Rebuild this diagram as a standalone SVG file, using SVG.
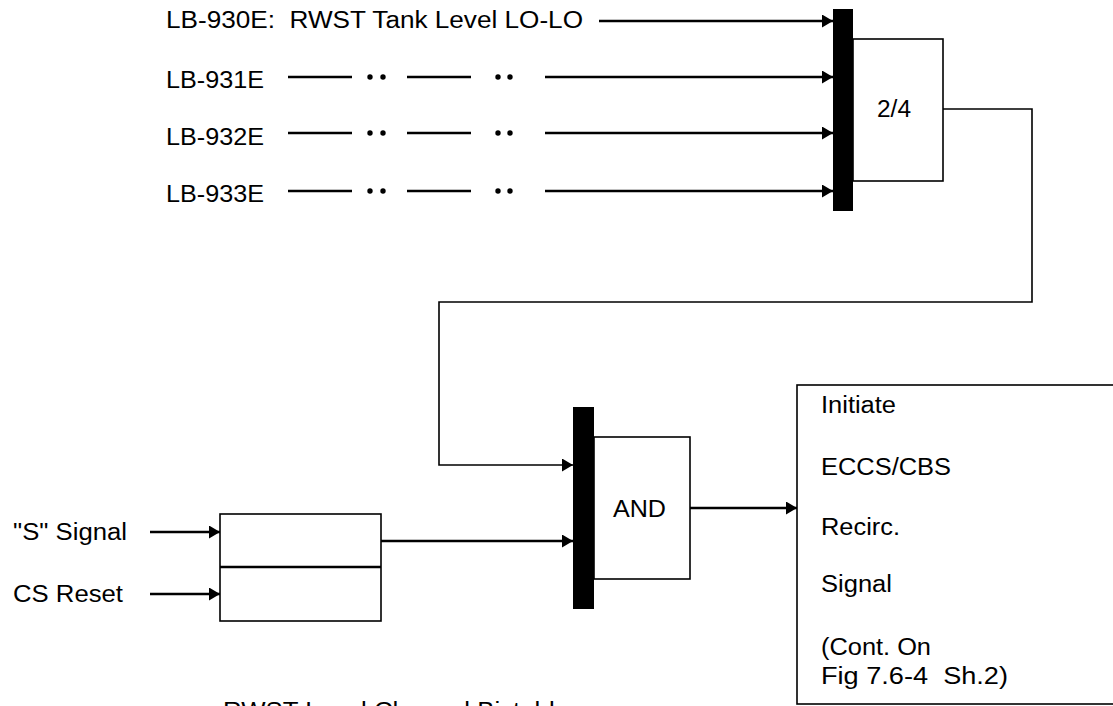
<svg xmlns="http://www.w3.org/2000/svg" width="1113" height="706" viewBox="0 0 1113 706">
<style>
text{font-family:"Liberation Sans",Arial,sans-serif;font-size:23px;fill:#000;white-space:pre}
.box{fill:#fff;stroke:#000;stroke-width:1.6}
.bar{fill:#000}
.sig{stroke:#000;stroke-width:2.6;fill:none}
.thin{stroke:#000;stroke-width:1.6;fill:none}
.dot{fill:#000}
</style>
<defs>
<marker id="ah" markerUnits="userSpaceOnUse" markerWidth="12" markerHeight="13" refX="11" refY="6.5" orient="auto">
<path d="M0,0 L11,6.5 L0,13 Z" fill="#000"/>
</marker>
</defs>
<rect width="1113" height="706" fill="#fff"/>

<g id="labels-top">
<text x="166" y="28" textLength="417" lengthAdjust="spacingAndGlyphs">LB-930E:  RWST Tank Level LO-LO</text>
<text x="166" y="88" textLength="98" lengthAdjust="spacingAndGlyphs">LB-931E</text>
<text x="166" y="145" textLength="98" lengthAdjust="spacingAndGlyphs">LB-932E</text>
<text x="166" y="202" textLength="98" lengthAdjust="spacingAndGlyphs">LB-933E</text>
</g>

<g id="vote-2of4">
<rect class="bar" x="833" y="9" width="20" height="202"/>
<rect class="box" x="853" y="39" width="90" height="142"/>
<text x="877" y="117" textLength="34" lengthAdjust="spacingAndGlyphs">2/4</text>
</g>

<g id="bistable">
<rect class="box" x="220" y="514" width="161" height="107"/>
<line x1="220" y1="567" x2="381" y2="567" stroke="#000" stroke-width="2.6"/>
</g>

<g id="inputs-bistable">
<text x="13" y="540" textLength="114" lengthAdjust="spacingAndGlyphs">"S" Signal</text>
<text x="13" y="602" textLength="110" lengthAdjust="spacingAndGlyphs">CS Reset</text>
</g>

<g id="and-gate">
<rect class="bar" x="573" y="407" width="21" height="202"/>
<rect class="box" x="594" y="437" width="96" height="142"/>
<text x="613" y="517" textLength="53" lengthAdjust="spacingAndGlyphs">AND</text>
</g>

<g id="output-box">
<rect class="box" x="797" y="385" width="320" height="319"/>
<text x="821" y="413" textLength="75" lengthAdjust="spacingAndGlyphs">Initiate</text>
<text x="821" y="475" textLength="130" lengthAdjust="spacingAndGlyphs">ECCS/CBS</text>
<text x="821" y="535" textLength="79" lengthAdjust="spacingAndGlyphs">Recirc.</text>
<text x="821" y="592" textLength="71" lengthAdjust="spacingAndGlyphs">Signal</text>
<text x="821" y="655" textLength="110" lengthAdjust="spacingAndGlyphs">(Cont. On</text>
<text x="821" y="684" textLength="187" lengthAdjust="spacingAndGlyphs">Fig 7.6-4  Sh.2)</text>
</g>

<g id="caption">
<text x="223" y="719" textLength="346" lengthAdjust="spacingAndGlyphs">RWST Level Channel Bistable</text>
</g>

<g id="connectors">
<line class="sig" x1="599" y1="21" x2="833" y2="21" marker-end="url(#ah)"/>

<line class="sig" x1="288" y1="77" x2="352" y2="77"/>
<line class="sig" x1="407" y1="77" x2="471" y2="77"/>
<line class="sig" x1="545" y1="77" x2="833" y2="77" marker-end="url(#ah)"/>
<circle class="dot" cx="370" cy="77" r="2.7"/><circle class="dot" cx="383" cy="77" r="2.7"/>
<circle class="dot" cx="498" cy="77" r="2.7"/><circle class="dot" cx="510" cy="77" r="2.7"/>

<line class="sig" x1="288" y1="133" x2="352" y2="133"/>
<line class="sig" x1="407" y1="133" x2="471" y2="133"/>
<line class="sig" x1="545" y1="133" x2="833" y2="133" marker-end="url(#ah)"/>
<circle class="dot" cx="370" cy="133" r="2.7"/><circle class="dot" cx="383" cy="133" r="2.7"/>
<circle class="dot" cx="498" cy="133" r="2.7"/><circle class="dot" cx="510" cy="133" r="2.7"/>

<line class="sig" x1="288" y1="191" x2="352" y2="191"/>
<line class="sig" x1="407" y1="191" x2="471" y2="191"/>
<line class="sig" x1="545" y1="191" x2="833" y2="191" marker-end="url(#ah)"/>
<circle class="dot" cx="370" cy="191" r="2.7"/><circle class="dot" cx="383" cy="191" r="2.7"/>
<circle class="dot" cx="498" cy="191" r="2.7"/><circle class="dot" cx="510" cy="191" r="2.7"/>

<polyline class="thin" points="943,109 1032,109 1032,302 439,302 439,465 573,465" marker-end="url(#ah)"/>

<line class="sig" x1="150" y1="532" x2="220" y2="532" marker-end="url(#ah)"/>
<line class="sig" x1="150" y1="594" x2="220" y2="594" marker-end="url(#ah)"/>
<line class="sig" x1="381" y1="541" x2="573" y2="541" marker-end="url(#ah)"/>
<line class="sig" x1="690" y1="508" x2="797" y2="508" marker-end="url(#ah)"/>
</g>
</svg>
